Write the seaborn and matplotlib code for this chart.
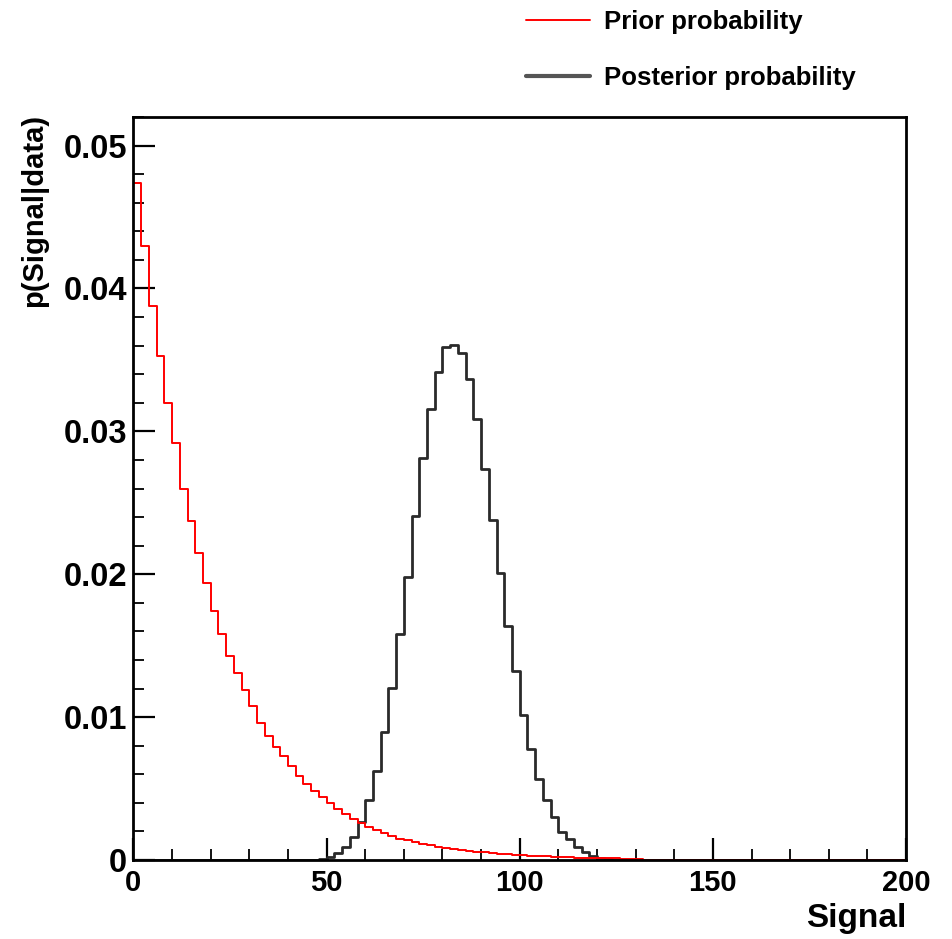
import numpy as np
import pandas as pd
import matplotlib
matplotlib.use("Agg")
import matplotlib.pyplot as plt
import seaborn as sns
from matplotlib.ticker import MultipleLocator, FuncFormatter

# ---- data (100 bins of width 2 over 0..200) ----
n_bins = 100
signal_range = (0, 200)

prior_prob = [
    0.0474, 0.0430, 0.0388, 0.0353, 0.0320, 0.0292, 0.0260, 0.0237, 0.0215, 0.0194,
    0.0174, 0.0158, 0.0143, 0.0131, 0.0119, 0.0108, 0.0096, 0.0087, 0.0079, 0.0073,
    0.0066, 0.0059, 0.0053, 0.0048, 0.0044, 0.0040, 0.0036, 0.0032, 0.0029, 0.0026,
    0.0023, 0.0021, 0.0019, 0.0017, 0.0015, 0.00137, 0.00125, 0.00113, 0.00103, 0.00094,
    0.00085, 0.00078, 0.00071, 0.00064, 0.00058, 0.00053, 0.00048, 0.00044, 0.00040, 0.00036,
    0.00033, 0.00030, 0.00027, 0.00025, 0.00022, 0.00020, 0.00019, 0.00017, 0.00015, 0.00014,
    0.00013, 0.00012, 0.00011, 0.00010, 0.00009, 0.00008, 0.0, 0.0, 0.0, 0.0,
    0.0, 0.0, 0.0, 0.0, 0.0, 0.0, 0.0, 0.0, 0.0, 0.0,
    0.0, 0.0, 0.0, 0.0, 0.0, 0.0, 0.0, 0.0, 0.0, 0.0,
    0.0, 0.0, 0.0, 0.0, 0.0, 0.0, 0.0, 0.0, 0.0, 0.0,
]

posterior_prob = [
    0.0, 0.0, 0.0, 0.0, 0.0, 0.0, 0.0, 0.0, 0.0, 0.0,
    0.0, 0.0, 0.0, 0.0, 0.0, 0.0, 0.0, 0.0, 0.0, 0.0,
    0.0, 0.0, 0.0, 0.0, 0.00008, 0.00024, 0.00048, 0.00092, 0.00162, 0.00266,
    0.00423, 0.00622, 0.00895, 0.01205, 0.01585, 0.01984, 0.02408, 0.02814, 0.03153, 0.03412,
    0.03588, 0.03605, 0.03545, 0.03368, 0.03085, 0.02734, 0.02379, 0.02006, 0.01638, 0.01324,
    0.01016, 0.00774, 0.00569, 0.00419, 0.00298, 0.00194, 0.00145, 0.00092, 0.00056, 0.00031,
    0.00016, 0.00008, 0.00003, 0.0, 0.0, 0.0, 0.0, 0.0, 0.0, 0.0,
    0.0, 0.0, 0.0, 0.0, 0.0, 0.0, 0.0, 0.0, 0.0, 0.0,
    0.0, 0.0, 0.0, 0.0, 0.0, 0.0, 0.0, 0.0, 0.0, 0.0,
    0.0, 0.0, 0.0, 0.0, 0.0, 0.0, 0.0, 0.0, 0.0, 0.0,
]

series_labels = ["Prior probability", "Posterior probability"]
x_label = "Signal"
y_label = "p(Signal|data)"

# ---- plotting ----
sns.set_theme(style="white")
plt.rcParams["font.family"] = ["Liberation Sans", "DejaVu Sans"]
plt.rcParams["font.weight"] = "bold"
plt.rcParams["text.color"] = "black"
plt.rcParams["xtick.color"] = "black"
plt.rcParams["ytick.color"] = "black"

fig = plt.figure(figsize=(9.52, 9.39), dpi=100)
ax = fig.add_axes([0.1402, 0.0841, 0.8115, 0.7913])

edges = np.linspace(signal_range[0], signal_range[1], n_bins + 1)
centers = (edges[:-1] + edges[1:]) / 2.0
df_post = pd.DataFrame({"signal": centers, "prob": posterior_prob})
df_prior = pd.DataFrame({"signal": centers, "prob": prior_prob})

sns.histplot(data=df_post, x="signal", weights="prob", bins=n_bins, binrange=signal_range,
             element="step", fill=False, color="#2a2a2a", linewidth=2.0, ax=ax)
sns.histplot(data=df_prior, x="signal", weights="prob", bins=n_bins, binrange=signal_range,
             element="step", fill=False, color="#ff0000", linewidth=1.4, ax=ax)

ax.set_xlim(0, 200)
ax.set_ylim(0, 0.052)

for s in ax.spines.values():
    s.set_color("black")
    s.set_linewidth(2.0)
    s.set_zorder(5)

ax.xaxis.set_major_locator(MultipleLocator(50))
ax.xaxis.set_minor_locator(MultipleLocator(10))
ax.yaxis.set_major_locator(MultipleLocator(0.01))
ax.yaxis.set_minor_locator(MultipleLocator(0.002))
ax.yaxis.set_major_formatter(FuncFormatter(lambda v, p: "0" if abs(v) < 1e-9 else f"{v:.2f}"))
ax.xaxis.set_major_formatter(FuncFormatter(lambda v, p: f"{v:.0f}"))

ax.tick_params(axis="both", which="major", direction="in", length=16, width=1.6,
               color="black", labelcolor="black", top=False, right=False,
               bottom=True, left=True)
ax.tick_params(axis="both", which="minor", direction="in", length=8, width=1.3,
               color="black", top=False, right=False, bottom=True, left=True)
ax.tick_params(axis="y", which="major", labelsize=23.5, pad=4.5)
ax.tick_params(axis="x", which="major", labelsize=21, pad=6.5)
for lab in ax.get_xticklabels() + ax.get_yticklabels():
    lab.set_fontweight("bold")

ax.set_xlabel("")
ax.set_ylabel("")
fig.text(0.9517, 0.005, x_label, ha="right", va="bottom", fontsize=24,
         fontweight="bold", color="black")
fig.text(0.021, 0.879, y_label, ha="left", va="top", rotation=90, fontsize=21,
         fontweight="bold", color="black")

handles = [
    plt.Line2D([], [], color="#ff0000", linewidth=1.4),
    plt.Line2D([], [], color="#555555", linewidth=3.0),
]
leg = fig.legend(handles, series_labels, loc="upper left", bbox_to_anchor=(0.528, 1.014),
                 frameon=False, handlelength=2.5, handletextpad=0.55,
                 labelspacing=1.25, prop={"weight": "bold", "size": 18.5})
for t in leg.get_texts():
    t.set_color("black")

fig.savefig("out.png", dpi=100, facecolor="white")
